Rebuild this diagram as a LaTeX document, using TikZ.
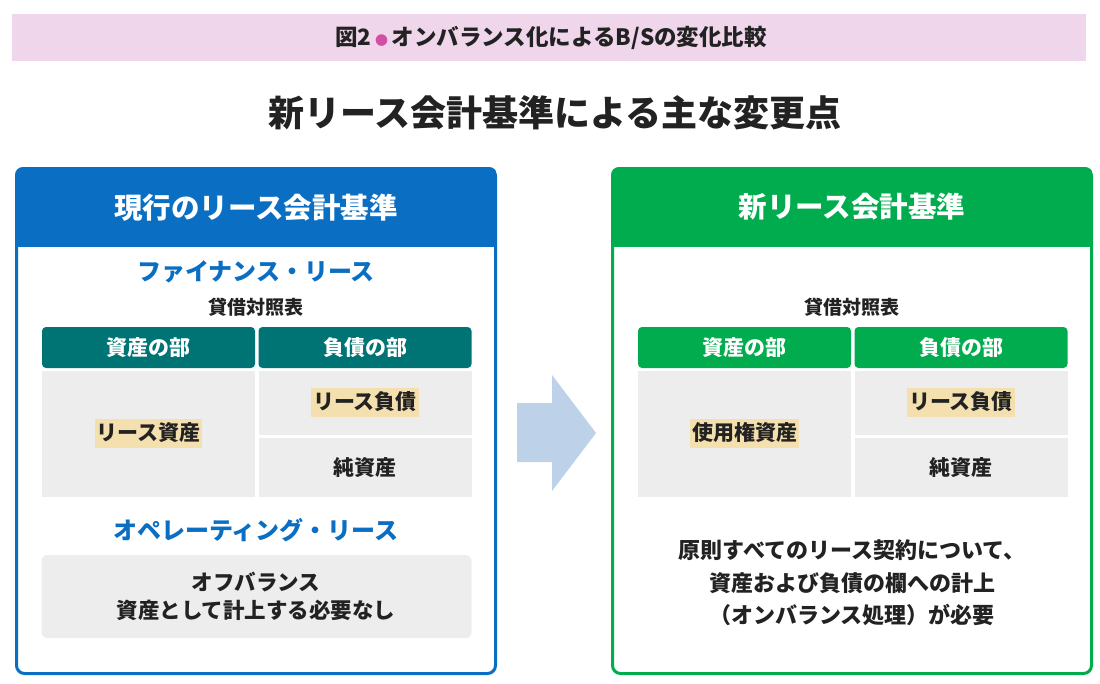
\documentclass[tikz,border=0pt]{standalone}
\usepackage{fontspec}
\setmainfont{Noto Sans CJK JP}
\definecolor{ink}{HTML}{222222}
\definecolor{blueC}{HTML}{0A6FC2}
\definecolor{greenC}{HTML}{00AC4E}
\definecolor{tealC}{HTML}{007474}
\definecolor{grayC}{HTML}{EDEDED}
\definecolor{hlC}{HTML}{F4E0AE}
\definecolor{arrowC}{HTML}{BDD1E8}
\definecolor{pinkC}{HTML}{EFD6EA}
\definecolor{magC}{HTML}{D24FA5}
\tikzset{
  fs/.style={font=\fontsize{#1}{#1}\selectfont\bfseries},
  plain/.style={inner sep=0, text=ink},
  hdrtext/.style={inner sep=0, text=white, fs=28.5},
  subtitle/.style={inner sep=0, text=#1, fs=24},
  bstitle/.style={inner sep=0, text=ink, fs=19},
  thead/.style={fill=#1, rounded corners=4, text=white, fs=21, inner sep=0},
  cellbox/.style={fill=grayC, inner sep=0, text=ink, fs=21},
  hl/.style={fill=hlC, inner xsep=2, inner ysep=0, minimum height=29, text=ink, fs=21},
  panelborder/.style={draw=#1, line width=3, rounded corners=8},
}
\begin{document}
\begin{tikzpicture}[x=1pt,y=-1pt]
\useasboundingbox (0,0) rectangle (1100,683);
% title bar
\node[fill=pinkC, minimum width=1074, minimum height=47, inner sep=0] (bar) at (549,37.5) {};
\node[plain, fs=22.5, anchor=center] (bartext) at (551,38) {図2\,{\color{magC}\fontsize{13}{13}\selectfont ●}\,オンバランス化によるB/Sの変化比較};
% heading
\node[plain, fs=36] (heading) at (555,113) {新リース会計基準による主な変更点};

% ---------------- left panel ----------------
\begin{scope}
  \clip[rounded corners=8] (15,167) rectangle (497,675);
  \fill[white] (15,167) rectangle (497,675);
  \fill[blueC] (15,167) rectangle (497,247);
\end{scope}
\draw[panelborder=blueC] (16.5,168.5) rectangle (495.5,673.5);
\node[hdrtext] (lhead) at (256,208) {現行のリース会計基準};
\node[subtitle=blueC] (fin) at (256,272) {ファイナンス・リース};
\node[bstitle] (lbs) at (256,307) {貸借対照表};
\node[thead=tealC, minimum width=213, minimum height=41] (lh1) at (148.5,347.5) {資産の部};
\node[thead=tealC, minimum width=213, minimum height=41] (lh2) at (365,347.5) {負債の部};
\node[cellbox, minimum width=213, minimum height=126] (la) at (148.5,434) {};
\node[cellbox, minimum width=213, minimum height=64] (ll) at (365,403) {};
\node[cellbox, minimum width=213, minimum height=59] (ln) at (365,467.5) {純資産};
\node[hl] (laT) at (148.5,433) {リース資産};
\node[hl] (llT) at (365,402) {リース負債};
\node[subtitle=blueC] (ope) at (256,530) {オペレーティング・リース};
\node[fill=grayC, rounded corners=6, minimum width=430, minimum height=83, inner sep=0] (offbox) at (256.5,596.5) {};
\node[plain, align=center, font=\fontsize{21.5}{28}\selectfont\bfseries] (offtext) at (256,596) {オフバランス\\資産として計上する必要なし};

% ---------------- arrow ----------------
\coordinate (arrowtail) at (517,432.5);
\fill[arrowC] (517,403) -- (552,403) -- (552,375) -- (596,433) -- (552,491) -- (552,462) -- (517,462) -- cycle;

% ---------------- right panel ----------------
\begin{scope}
  \clip[rounded corners=8] (611,167) rectangle (1093,675);
  \fill[white] (611,167) rectangle (1093,675);
  \fill[greenC] (611,167) rectangle (1093,247);
\end{scope}
\draw[panelborder=greenC] (612.5,168.5) rectangle (1091.5,673.5);
\node[hdrtext] (rhead) at (852,207) {新リース会計基準};
\node[bstitle] (rbs) at (852,307) {貸借対照表};
\node[thead=greenC, minimum width=213, minimum height=41] (rh1) at (744.5,347.5) {資産の部};
\node[thead=greenC, minimum width=213, minimum height=41] (rh2) at (961,347.5) {負債の部};
\node[cellbox, minimum width=213, minimum height=126] (ra) at (744.5,434) {};
\node[cellbox, minimum width=213, minimum height=64] (rl) at (961,403) {};
\node[cellbox, minimum width=213, minimum height=59] (rn) at (961,467.5) {純資産};
\node[hl] (raT) at (744.5,433) {使用権資産};
\node[hl] (rlT) at (961,402) {リース負債};
\node[plain, align=center, font=\fontsize{22}{32.5}\selectfont\bfseries] (rtext) at (852,583) {原則すべてのリース契約について、\\資産および負債の欄への計上\\（オンバランス処理）が必要};
\end{tikzpicture}
\end{document}
